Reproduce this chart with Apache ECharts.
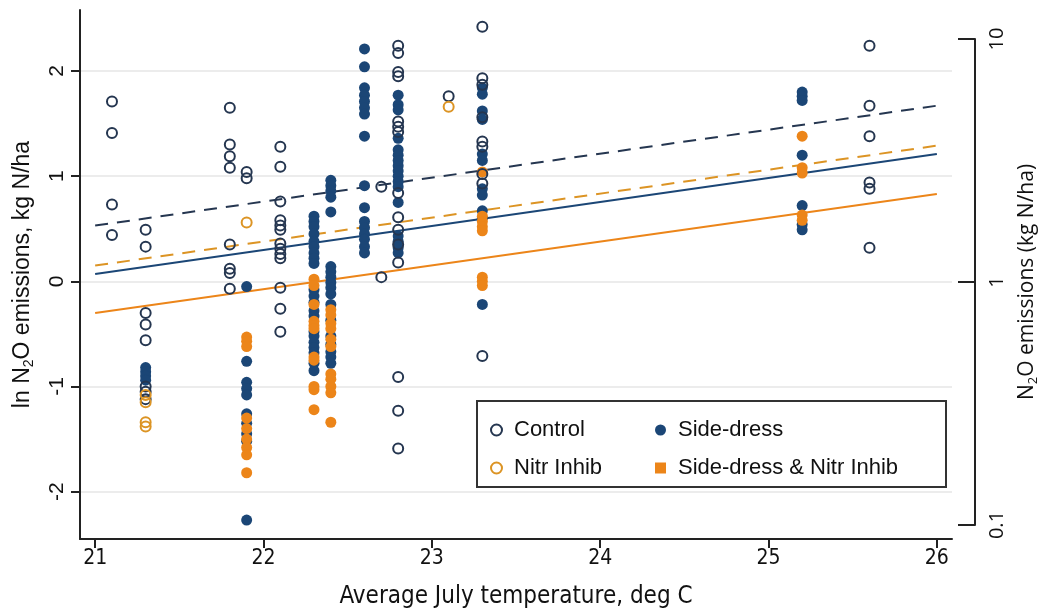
<!DOCTYPE html>
<html>
<head>
<meta charset="utf-8">
<script src="https://cdn.jsdelivr.net/npm/echarts@6/dist/echarts.min.js"></script>
<style>
  html, body { margin: 0; padding: 0; background: #fff; }
  #chart { width: 1048px; height: 614px; }
</style>
</head>
<body>
<div id="chart"></div>
<script>
// ln N2O emissions vs average July temperature
const controlPts = [
  [21.1, 1.71], [21.1, 1.41], [21.1, 0.73], [21.1, 0.44],
  [21.3, 0.49], [21.3, 0.33], [21.3, -0.30], [21.3, -0.41], [21.3, -0.56], [21.3, -1.00], [21.3, -1.05], [21.3, -1.12],
  [21.8, 1.65], [21.8, 1.30], [21.8, 1.19], [21.8, 1.08], [21.8, 0.35], [21.8, 0.12], [21.8, 0.08], [21.8, -0.07],
  [21.9, 1.04], [21.9, 0.98],
  [22.1, 1.28], [22.1, 1.09], [22.1, 0.76], [22.1, 0.58], [22.1, 0.53], [22.1, 0.49], [22.1, 0.36], [22.1, 0.31],
  [22.1, 0.26], [22.1, 0.22], [22.1, -0.06], [22.1, -0.26], [22.1, -0.48],
  [22.7, 0.90], [22.7, 0.04],
  [22.8, 2.24], [22.8, 2.17], [22.8, 1.99], [22.8, 1.95], [22.8, 1.52], [22.8, 1.47], [22.8, 1.42], [22.8, 0.84],
  [22.8, 0.61], [22.8, 0.49], [22.8, 0.35], [22.8, 0.18], [22.8, -0.91], [22.8, -1.23], [22.8, -1.59],
  [23.1, 1.76],
  [23.3, 2.42], [23.3, 1.93], [23.3, 1.87], [23.3, 1.56], [23.3, 1.33], [23.3, 1.28], [23.3, 1.02], [23.3, 0.93], [23.3, -0.71],
  [25.6, 2.24], [25.6, 1.67], [25.6, 1.38], [25.6, 0.94], [25.6, 0.88], [25.6, 0.32]
];
const nitrPts = [
  [21.3, -1.08], [21.3, -1.15], [21.3, -1.34], [21.3, -1.38],
  [21.9, 0.56],
  [23.1, 1.66]
];
const sidePts = [
  [21.3, -0.82], [21.3, -0.86], [21.3, -0.90], [21.3, -0.94],
  [21.9, -0.05], [21.9, -0.76], [21.9, -0.96], [21.9, -1.02], [21.9, -1.08], [21.9, -1.26], [21.9, -1.35],
  [21.9, -1.45], [21.9, -1.52], [21.9, -2.27],
  [22.3, 0.62], [22.3, 0.57], [22.3, 0.52], [22.3, 0.45], [22.3, 0.38], [22.3, 0.33], [22.3, 0.27], [22.3, 0.22],
  [22.3, 0.17], [22.3, -0.08], [22.3, -0.14], [22.3, -0.20], [22.3, -0.28], [22.3, -0.33], [22.3, -0.48], [22.3, -0.52],
  [22.3, -0.58], [22.3, -0.63], [22.3, -0.68], [22.3, -0.78], [22.3, -0.85],
  [22.4, 0.96], [22.4, 0.91], [22.4, 0.86], [22.4, 0.80], [22.4, 0.66], [22.4, 0.14], [22.4, 0.09], [22.4, 0.04],
  [22.4, -0.01], [22.4, -0.06], [22.4, -0.12], [22.4, -0.22], [22.4, -0.37], [22.4, -0.52], [22.4, -0.60],
  [22.4, -0.67], [22.4, -0.72], [22.4, -0.78],
  [22.6, 2.21], [22.6, 2.04], [22.6, 1.84], [22.6, 1.77], [22.6, 1.71], [22.6, 1.65], [22.6, 1.59], [22.6, 1.38],
  [22.6, 0.91], [22.6, 0.70], [22.6, 0.57], [22.6, 0.51], [22.6, 0.45], [22.6, 0.40], [22.6, 0.33], [22.6, 0.27],
  [22.8, 1.77], [22.8, 1.68], [22.8, 1.63], [22.8, 1.36], [22.8, 1.25], [22.8, 1.20], [22.8, 1.15], [22.8, 1.10],
  [22.8, 1.05], [22.8, 1.00], [22.8, 0.95], [22.8, 0.90], [22.8, 0.75], [22.8, 0.43], [22.8, 0.38], [22.8, 0.32], [22.8, 0.27],
  [23.3, 1.84], [23.3, 1.78], [23.3, 1.62], [23.3, 1.54], [23.3, 1.21], [23.3, 1.15], [23.3, 0.88], [23.3, 0.82],
  [23.3, 0.67], [23.3, 0.60], [23.3, -0.22],
  [25.2, 1.80], [25.2, 1.76], [25.2, 1.72], [25.2, 1.20], [25.2, 0.72], [25.2, 0.54], [25.2, 0.49]
];
const sideNitrPts = [
  [21.9, -0.53], [21.9, -0.57], [21.9, -0.62], [21.9, -1.30], [21.9, -1.40], [21.9, -1.50], [21.9, -1.58],
  [21.9, -1.65], [21.9, -1.82],
  [22.3, 0.02], [22.3, -0.04], [22.3, -0.22], [22.3, -0.38], [22.3, -0.42], [22.3, -0.45], [22.3, -0.72],
  [22.3, -0.75], [22.3, -1.00], [22.3, -1.03], [22.3, -1.22],
  [22.4, -0.27], [22.4, -0.32], [22.4, -0.40], [22.4, -0.45], [22.4, -0.55], [22.4, -0.62], [22.4, -0.88],
  [22.4, -0.93], [22.4, -1.00], [22.4, -1.06], [22.4, -1.34],
  [23.3, 1.04], [23.3, 0.62], [23.3, 0.57], [23.3, 0.52], [23.3, 0.48], [23.3, 0.04], [23.3, 0.00], [23.3, -0.04],
  [25.2, 1.38], [25.2, 1.08], [25.2, 1.03], [25.2, 0.63], [25.2, 0.58]
];

// fitted lines, value at 21 and 26 deg C
const fitX = [21, 26];
const fitControl = [0.53, 1.67];
const fitNitr = [0.15, 1.29];
const fitSide = [0.07, 1.21];
const fitSideNitr = [-0.30, 0.83];

const xTicks = [21, 22, 23, 24, 25, 26];
const yTicks = [-2, -1, 0, 1, 2];
const rightTicks = [0.1, 1, 10];

const NAVY = '#1b4676';
const DARK = '#253650';
const ORANGE = '#ec8519';
const GOLD = '#dc9424';
const AXIS = '#222';
const NARROW = "'Liberation Sans Narrow', 'DejaVu Sans Condensed', 'Liberation Sans', sans-serif";

const chart = echarts.init(document.getElementById('chart'));

const fitLine = (name, ys, color, dashed) => ({
  name: name,
  type: 'line',
  data: fitX.map((x, i) => [x, ys[i]]),
  symbol: 'none',
  silent: true,
  z: 1,
  lineStyle: { color: color, width: 2, type: dashed ? [13, 9] : 'solid' }
});

const legendText = { fontSize: 22, color: '#111', fontFamily: 'Liberation Sans', padding: [0, 0, 0, 7] };

const option = {
  backgroundColor: '#fff',
  animation: false,
  textStyle: { fontFamily: 'Liberation Sans' },
  grid: [
    { left: 80, right: 96, top: 10, bottom: 74 },
    { left: 80, right: 69, top: 39, height: 486 }
  ],
  xAxis: [
    {
      type: 'value',
      gridIndex: 0,
      min: 20.91,
      max: 26.09,
      name: 'Average July temperature, deg C',
      nameLocation: 'middle',
      nameGap: 46,
      nameTextStyle: { fontFamily: NARROW, fontSize: 24, color: '#111' },
      axisLine: { onZero: false, lineStyle: { color: AXIS, width: 2 } },
      axisTick: { customValues: xTicks, length: 9, lineStyle: { color: AXIS, width: 2 } },
      axisLabel: { customValues: xTicks, fontFamily: NARROW, fontSize: 21, color: '#111', margin: 9 },
      splitLine: { show: false }
    },
    {
      type: 'value',
      gridIndex: 1,
      min: 20.91,
      max: 26.09,
      show: false,
      axisLine: { onZero: false }
    }
  ],
  yAxis: [
    {
      type: 'value',
      gridIndex: 0,
      min: -2.45,
      max: 2.58,
      name: '{a|ln N}{s|2}{a|O emissions, kg N/ha}',
      nameLocation: 'middle',
      nameRotate: 90,
      nameGap: 44,
      nameTextStyle: {
        rich: {
          a: { fontSize: 23, color: '#111', fontFamily: 'Liberation Sans' },
          s: { fontSize: 14, color: '#111', fontFamily: 'Liberation Sans', padding: [12, 0, 0, 0] }
        }
      },
      axisLine: { show: true, onZero: false, lineStyle: { color: AXIS, width: 2 } },
      axisTick: { show: true, customValues: yTicks, length: 9, lineStyle: { color: AXIS, width: 2 } },
      axisLabel: { customValues: yTicks, rotate: 90, fontSize: 21, color: '#111', margin: 12 },
      splitLine: { show: true, lineStyle: { color: '#ececec', width: 2 } }
    },
    {
      type: 'log',
      logBase: 10,
      gridIndex: 1,
      position: 'right',
      min: 0.1,
      max: 10,
      name: '{a|N}{s|2}{a|O emissions (kg N/ha)}',
      nameLocation: 'middle',
      nameRotate: 90,
      nameGap: 40,
      nameTextStyle: {
        rich: {
          a: { fontSize: 21, color: '#111', fontFamily: 'Open Sans' },
          s: { fontSize: 13, color: '#111', fontFamily: 'Open Sans', padding: [12, 0, 0, 0] }
        }
      },
      axisLine: { show: true, onZero: false, lineStyle: { color: AXIS, width: 2 } },
      axisTick: { show: true, inside: true, customValues: rightTicks, length: 17, lineStyle: { color: AXIS, width: 2 } },
      axisLabel: { customValues: rightTicks, rotate: 90, fontFamily: 'Open Sans', fontSize: 20, color: '#111', margin: 12 },
      splitLine: { show: false },
      minorTick: { show: false }
    }
  ],
  legend: [
    {
      left: 485,
      top: 414,
      orient: 'vertical',
      itemGap: 16,
      itemWidth: 11,
      itemHeight: 11,
      z: 6,
      textStyle: legendText,
      data: [
        { name: 'Control', icon: 'circle' },
        { name: 'Nitr Inhib', icon: 'circle' }
      ]
    },
    {
      left: 650,
      top: 414,
      orient: 'vertical',
      itemGap: 16,
      itemWidth: 11,
      itemHeight: 11,
      z: 6,
      textStyle: legendText,
      data: [
        { name: 'Side-dress', icon: 'circle' },
        { name: 'Side-dress & Nitr Inhib', icon: 'rect' }
      ]
    }
  ],
  graphic: [
    {
      type: 'rect',
      z: 5,
      shape: { x: 477, y: 401, width: 469, height: 86 },
      style: { fill: '#fff', stroke: '#333', lineWidth: 2 }
    }
  ],
  series: [
    fitLine('fit Control', fitControl, DARK, true),
    fitLine('fit Nitr Inhib', fitNitr, GOLD, true),
    fitLine('fit Side-dress', fitSide, NAVY, false),
    fitLine('fit Side-dress & Nitr Inhib', fitSideNitr, ORANGE, false),
    {
      name: 'Side-dress',
      type: 'scatter',
      data: sidePts,
      symbol: 'circle',
      symbolSize: 11,
      z: 2,
      itemStyle: { color: NAVY, opacity: 1 }
    },
    {
      name: 'Side-dress & Nitr Inhib',
      type: 'scatter',
      data: sideNitrPts,
      symbol: 'circle',
      symbolSize: 11,
      z: 3,
      itemStyle: { color: ORANGE, opacity: 1 }
    },
    {
      name: 'Control',
      type: 'scatter',
      data: controlPts,
      symbol: 'circle',
      symbolSize: 10,
      z: 4,
      itemStyle: { color: 'rgba(255,255,255,0)', borderColor: DARK, borderWidth: 2, opacity: 1 }
    },
    {
      name: 'Nitr Inhib',
      type: 'scatter',
      data: nitrPts,
      symbol: 'circle',
      symbolSize: 10,
      z: 4,
      itemStyle: { color: 'rgba(255,255,255,0)', borderColor: GOLD, borderWidth: 2, opacity: 1 }
    }
  ]
};

chart.setOption(option);
</script>
</body>
</html>
